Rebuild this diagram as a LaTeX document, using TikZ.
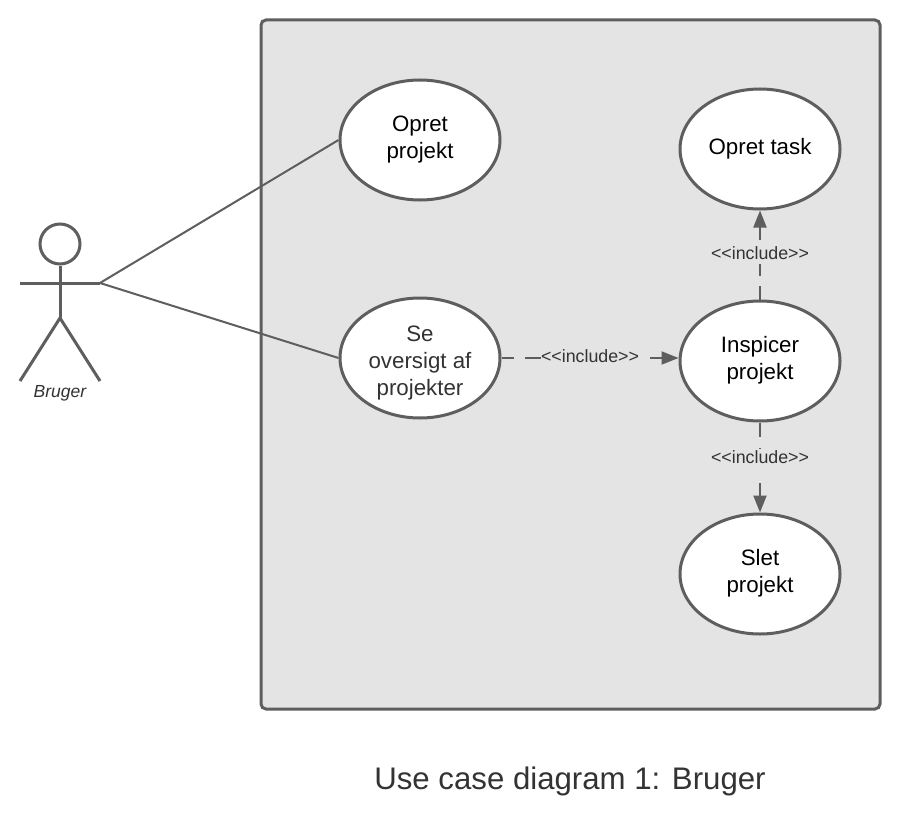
\documentclass[tikz,border=0pt]{standalone}
\usepackage{fontspec}
\setmainfont{Liberation Sans}
\usetikzlibrary{shapes.geometric,arrows.meta}
\definecolor{linegray}{HTML}{5E5E5E}
\definecolor{boxgray}{HTML}{E4E4E4}
\definecolor{textgray}{HTML}{333333}
\newcommand{\inclword}{{<}{<}include{>}{>}}
\tikzset{
  usecase/.style={ellipse,draw=linegray,line width=3pt,fill=white,minimum width=160pt,minimum height=120pt,inner sep=0pt,align=center,font=\fontsize{22.3}{27}\selectfont,text=black},
  usetext/.style={align=center,font=\fontsize{22.3}{27}\selectfont,inner sep=0pt},
  assoc/.style={draw=linegray,line width=2pt},
  incl/.style={draw=linegray,line width=2pt},
  inclhead/.style={draw=linegray,line width=2pt,-{Triangle[length=17pt,width=13pt,fill=linegray]}},
  incllabel/.style={font=\fontsize{17.8}{20}\selectfont,text=textgray,inner sep=0pt},
  limb/.style={draw=linegray,line width=3pt},
}
\begin{document}
\begin{tikzpicture}[x=1pt,y=-1pt]
\useasboundingbox (0,0) rectangle (899,824);
\node[draw=linegray,line width=3pt,fill=boxgray,rounded corners=5pt,minimum width=619pt,minimum height=689pt,inner sep=0pt] (system) at (570.5,364.5) {};
\node[usecase] (opret) at (420,140) {Opret\\projekt};
\node[usecase] (oversigt) at (420,358) {};
\node[usetext,text=textgray] (oversigttext) at (420,363) {Se\\oversigt af\\projekter};
\node[usecase] (task) at (760,149) {Opret task};
\node[usecase] (inspicer) at (760,361) {};
\node[usetext] (inspicertext) at (760,360.5) {Inspicer\\projekt};
\node[usecase] (slet) at (760,574) {};
\node[usetext] (slettext) at (760,573) {Slet\\projekt};
% actor
\node[circle,draw=linegray,line width=3pt,minimum size=40pt,inner sep=0pt] (head) at (60,244) {};
\coordinate (hip) at (60,318);
\coordinate (lefthand) at (20,283);
\coordinate (hand) at (100,283);
\coordinate (leftfoot) at (20,381);
\coordinate (rightfoot) at (100,381);
\draw[limb] (head.south) -- (hip);
\draw[limb] (lefthand) -- (hand);
\draw[limb] (leftfoot) -- (hip) -- (rightfoot);
\node[font=\fontsize{17.5}{20}\selectfont\itshape,text=textgray] (actorname) at (60,393) {Bruger};
% connectors
\draw[assoc] (hand) -- (opret.west);
\draw[assoc] (hand) -- (oversigt.west);
% include labels
\node[incllabel] (l1) at (590,356) {\inclword};
\node[incllabel] (l2) at (760,253) {\inclword};
\node[incllabel] (l3) at (760,457) {\inclword};
% restart points of the dashed lines past each label
\coordinate (l1out) at (650,358);
\coordinate (l2out) at (760,240);
\coordinate (l3out) at (760,483);
\coordinate (l1in) at (541,358);
\coordinate (l2in) at (760,264);
\coordinate (l3in) at (760,448);
\draw[incl,dash pattern=on 12pt off 11pt on 17pt off 99pt] (oversigt.east) -- (l1in);
\draw[inclhead] (l1out) -- (l1out -| inspicer.west);
\draw[incl,dash pattern=on 14pt off 10pt on 13pt off 99pt] (inspicer.north) -- (l2in);
\draw[inclhead] (l2out) -- (task.south);
\draw[incl,dash pattern=on 14pt off 11pt on 4pt off 99pt] (inspicer.south) -- (l3in);
\draw[inclhead] (l3out) -- (slet.north);
\node[font=\fontsize{31.2}{36}\selectfont,text=textgray] (title) at (570,781.5) {Use case diagram 1: Bruger};
\end{tikzpicture}
\end{document}
